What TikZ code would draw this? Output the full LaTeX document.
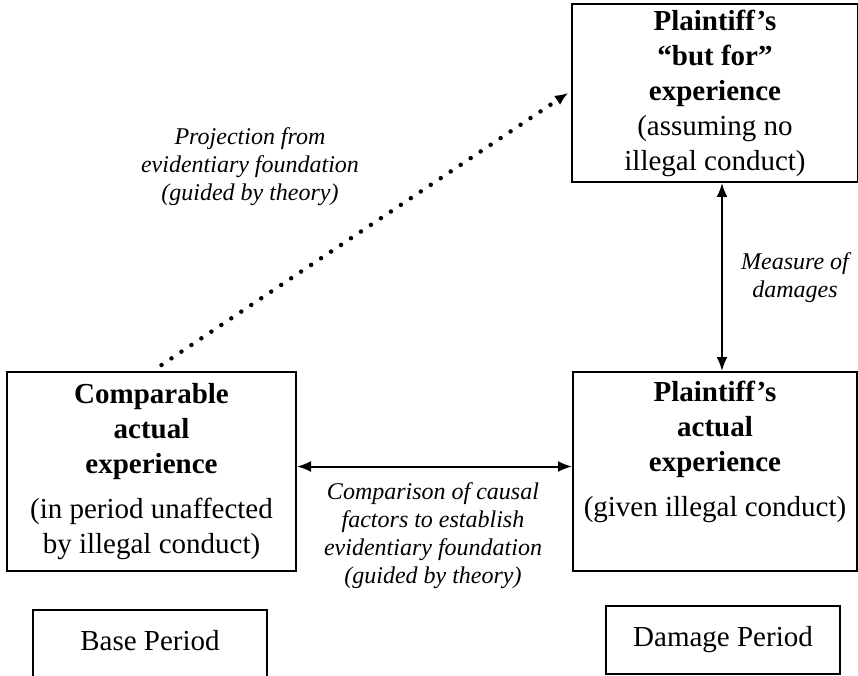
\documentclass[tikz,border=0pt]{standalone}
\usepackage{fontspec}
\setmainfont{Liberation Serif}
\usetikzlibrary{arrows.meta}

\tikzset{
	box/.style={draw, line width=2pt, align=center, inner sep=0pt},
	note/.style={align=center, font=\fontsize{24}{28}\selectfont\itshape},
	link/.style={line width=2pt, {Latex[length=14pt,width=11pt]}-{Latex[length=14pt,width=11pt]}},
}

\begin{document}
\begin{tikzpicture}[x=1pt, y=-1pt, font=\fontsize{29}{35}\selectfont]
		\clip (0,0) rectangle (858,676);
		% the three experiences
		\node[box, minimum width=286pt, minimum height=178pt] (butfor) at (715,93) {\textbf{Plaintiff’s}\\ \textbf{“but for”}\\ \textbf{experience}\\ (assuming no\\ illegal conduct)};
		\node[box, minimum width=289pt, minimum height=199pt] (comp) at (151.5,471.5) {\textbf{Comparable}\\ \textbf{actual}\\ \textbf{experience}\\[10pt] (in period unaffected\\ by illegal conduct)};
		\node[box, minimum width=284pt, minimum height=199pt] (actual) at (715,471.5) {\textbf{Plaintiff’s}\\ \textbf{actual}\\ \textbf{experience}\\[10pt] (given illegal conduct)\\ \strut};
		% periods
		\node[minimum width=234pt, minimum height=62pt] (base) at (150,641) {Base Period};
		\draw[line width=2pt] ([yshift=-12pt]base.south west) |- (base.north east) -- ([yshift=-12pt]base.south east);
		\node[box, minimum width=234pt, minimum height=68pt] (damage) at (723,640) {Damage Period};
		% links
		\draw[line width=4.5pt, line cap=round, dash pattern=on 0pt off 12pt, -{Latex[length=13pt,width=11pt]}] ([shift={(10,-6)}]comp.north) -- ([xshift=-3pt]butfor.west);
		\draw[link] ([xshift=7pt]butfor.south) -- ([xshift=7pt]actual.north);
		\draw[link] ([yshift=5pt]comp.east) -- ([yshift=5pt]actual.west);
		% labels
		\node[note] (proj) at (250,167) {Projection from\\ evidentiary foundation\\ (guided by theory)};
		\node[note] (measure) at (795,278) {Measure of\\ damages};
		\node[note] (compare) at (433,536) {Comparison of causal\\ factors to establish\\ evidentiary foundation\\ (guided by theory)};
	\end{tikzpicture}
\end{document}
